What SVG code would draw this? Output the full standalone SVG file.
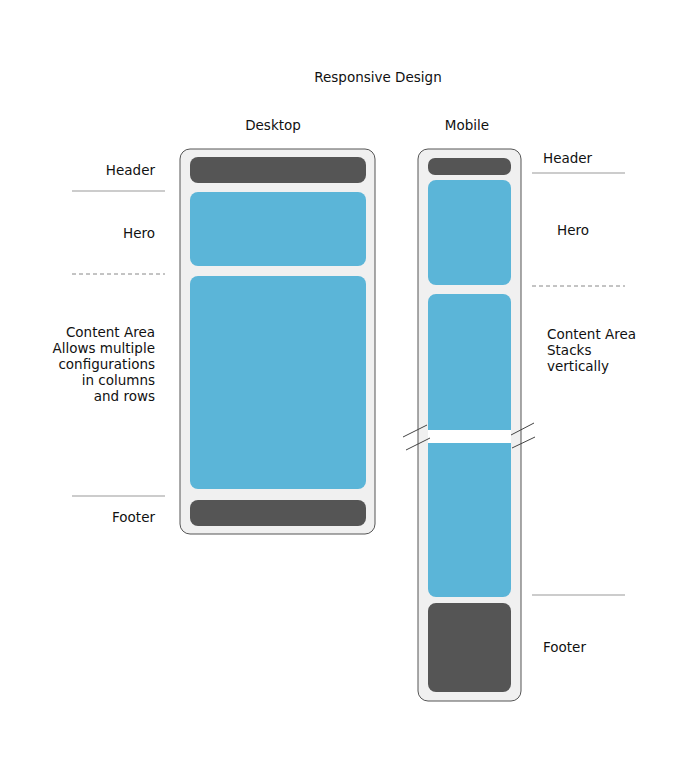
<svg xmlns="http://www.w3.org/2000/svg" width="680" height="770" viewBox="0 0 680 770">
<style>
text{font-family:"DejaVu Sans","Liberation Sans",sans-serif;font-size:13.5px;fill:#111}
.frame{fill:#f0f0f0;stroke:#555;stroke-width:1}
.dark{fill:#555}
.blue{fill:#5bb5d8}
.rule{stroke:#999;stroke-width:1.2;fill:none}
.dash{stroke:#888;stroke-width:1;stroke-dasharray:4 3;fill:none}
.brk{stroke:#444;stroke-width:1;fill:none}
.r{text-anchor:end}
.m{text-anchor:middle}
</style>
<rect width="680" height="770" fill="#fff"/>
<g id="title"><text class="m" x="378" y="82">Responsive Design</text></g>
<g id="desktop">
<text class="m" x="273" y="130">Desktop</text>
<rect class="frame" x="180" y="149" width="195" height="385" rx="10"/>
<rect class="dark" x="190" y="157" width="176" height="26" rx="8"/>
<rect class="blue" x="190" y="192" width="176" height="74" rx="8"/>
<rect class="blue" x="190" y="276" width="176" height="213" rx="8"/>
<rect class="dark" x="190" y="500" width="176" height="26" rx="8"/>
</g>
<g id="mobile">
<text class="m" x="467" y="130">Mobile</text>
<rect class="frame" x="418" y="149" width="103" height="552" rx="10"/>
<rect class="dark" x="428" y="158" width="83" height="17" rx="7"/>
<rect class="blue" x="428" y="180" width="83" height="105" rx="8"/>
<rect class="blue" x="428" y="294" width="83" height="303" rx="8"/>
<rect class="dark" x="428" y="603" width="83" height="89" rx="8"/>
<rect x="428" y="430" width="83" height="13" fill="#fff"/>
</g>
<g id="labels-desktop">
<text class="r" x="155" y="175">Header</text>
<text class="r" x="155" y="238">Hero</text>
<text class="r" x="155" y="337">Content Area</text>
<text class="r" x="155" y="353">Allows multiple</text>
<text class="r" x="155" y="369">configurations</text>
<text class="r" x="155" y="385">in columns</text>
<text class="r" x="155" y="401">and rows</text>
<text class="r" x="155" y="522">Footer</text>
</g>
<g id="labels-mobile">
<text x="543" y="163">Header</text>
<text x="557" y="235">Hero</text>
<text x="547" y="339">Content Area</text>
<text x="547" y="355">Stacks</text>
<text x="547" y="371">vertically</text>
<text x="543" y="652">Footer</text>
</g>
<g id="connectors">
<line class="rule" x1="72" y1="191" x2="165" y2="191"/>
<line class="dash" x1="72" y1="274" x2="165" y2="274"/>
<line class="rule" x1="72" y1="496" x2="165" y2="496"/>
<line class="rule" x1="532" y1="173" x2="625" y2="173"/>
<line class="dash" x1="532" y1="286" x2="625" y2="286"/>
<line class="rule" x1="532" y1="595" x2="625" y2="595"/>
<line class="brk" x1="403" y1="437" x2="427" y2="425"/>
<line class="brk" x1="406" y1="450" x2="430" y2="438"/>
<line class="brk" x1="511" y1="435" x2="534" y2="423"/>
<line class="brk" x1="512" y1="448" x2="535" y2="437"/>
</g>
</svg>
